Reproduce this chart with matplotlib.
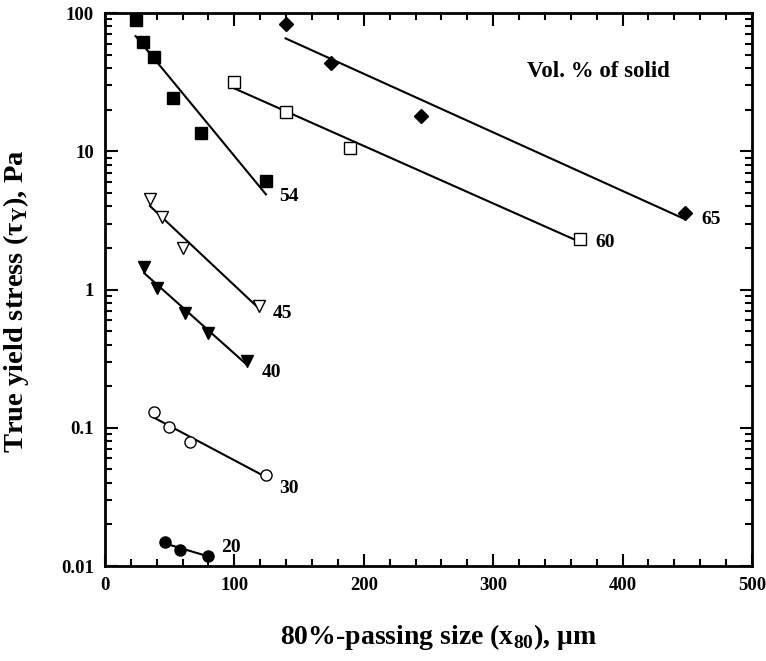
import numpy as np
import matplotlib
matplotlib.use("Agg")
import matplotlib.pyplot as plt
from matplotlib.ticker import LogLocator, MultipleLocator, NullFormatter, FixedLocator, FixedFormatter

plt.rcParams['font.family'] = ['Liberation Serif', 'DejaVu Serif']
plt.rcParams['font.weight'] = 'bold'

# ---- data (x80 in um, true yield stress in Pa) ----
x_65 = [139.6, 174.7, 244.2, 448.2]
y_65 = [83.3, 43.3, 18.1, 3.56]
x_60 = [99.5, 139.6, 189.3, 366.8]
y_60 = [31.7, 19.2, 10.6, 2.32]
x_54 = [23.7, 29.6, 37.6, 52.8, 74.4, 124.4]
y_54 = [89.0, 61.4, 48.3, 24.3, 13.5, 6.07]
x_45 = [34.8, 44.3, 60.5, 119.3]
y_45 = [4.49, 3.36, 2.00, 0.764]
x_40 = [30.4, 39.9, 61.8, 79.8, 109.5]
y_40 = [1.46, 1.03, 0.673, 0.487, 0.304]
x_30 = [37.9, 49.2, 65.9, 124.4]
y_30 = [0.129, 0.101, 0.0785, 0.0455]
x_20 = [46.6, 58.0, 79.8]
y_20 = [0.0149, 0.0130, 0.0119]

labels = ["65", "60", "54", "45", "40", "30", "20"]
label_pos = [(461, 3.23), (379, 2.18), (135, 4.7), (130, 0.67), (121, 0.253), (135, 0.0364), (90, 0.0135)]

x_ticks = [0, 100, 200, 300, 400, 500]
y_ticks = [0.01, 0.1, 1, 10, 100]
y_ticklabels = ["0.01", "0.1", "1", "10", "100"]

series = [
    (x_65, y_65, dict(marker='D', mfc='black', mec='black', ms=7)),
    (x_60, y_60, dict(marker='s', mfc='white', mec='black', ms=8)),
    (x_54, y_54, dict(marker='s', mfc='black', mec='black', ms=8)),
    (x_45, y_45, dict(marker='v', mfc='white', mec='black', ms=9)),
    (x_40, y_40, dict(marker='v', mfc='black', mec='black', ms=9)),
    (x_30, y_30, dict(marker='o', mfc='white', mec='black', ms=8)),
    (x_20, y_20, dict(marker='o', mfc='black', mec='black', ms=8)),
]

fig = plt.figure(figsize=(7.66, 6.61), dpi=100)
ax = fig.add_axes([0.137, 0.1437, 0.8447, 0.8366])
ax.set_yscale('log')

for xs, ys, st in series:
    xs = np.array(xs); ys = np.array(ys)
    # exponential fit (log y vs x)
    b, a = np.polyfit(xs, np.log10(ys), 1)
    xl = np.array([xs.min(), xs.max()])
    ax.plot(xl, 10 ** (a + b * xl), color='black', lw=1.5, zorder=2)
    ax.plot(xs, ys, ls='none', mew=1.0, zorder=3, **st)

for lab, (lx, ly) in zip(labels, label_pos):
    ax.text(lx, ly, lab, fontsize=14, fontweight='bold', ha='left', va='center')

ax.text(326, 38, "Vol. % of solid", fontsize=16.5, fontweight='bold', ha='left', va='center')

ax.set_xlim(0, 500)
ax.set_ylim(0.01, 100)
ax.xaxis.set_major_locator(FixedLocator(x_ticks))
ax.xaxis.set_minor_locator(MultipleLocator(20))
ax.yaxis.set_major_locator(FixedLocator(y_ticks))
ax.yaxis.set_major_formatter(FixedFormatter(y_ticklabels))
ax.yaxis.set_minor_locator(LogLocator(base=10, subs=np.arange(2, 10)))
ax.yaxis.set_minor_formatter(NullFormatter())

ax.tick_params(which='both', direction='in', top=True, right=True, width=1.5)
ax.tick_params(which='major', length=9, labelsize=13.5, pad=8)
ax.tick_params(which='minor', length=5)
for lbl in ax.get_xticklabels() + ax.get_yticklabels():
    lbl.set_fontweight('bold')
for sp in ax.spines.values():
    sp.set_linewidth(2)

ax.set_xlabel("80%-passing size (x$_\\mathregular{80}$), μm", fontsize=20, fontweight='bold')
ax.xaxis.label.set_va('center')
ax.xaxis.set_label_coords(0.515, (566 - 637) / 553)
ax.set_ylabel("True yield stress (τ$_\\mathregular{Y}$), Pa", fontsize=20.5, fontweight='bold')
ax.yaxis.label.set_va('center')
ax.yaxis.set_label_coords((16 - 105) / 647, (566 - 301) / 553)

fig.savefig("out.png", dpi=100)
